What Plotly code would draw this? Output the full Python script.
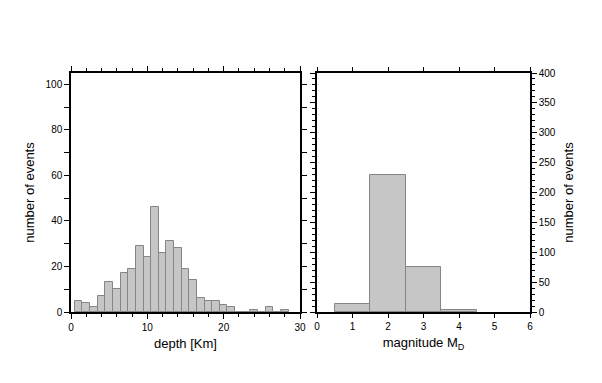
import plotly.graph_objects as go

# Depth histogram (1 km bins, centred on integers)
depth_centers = list(range(1, 29))
depth_counts = [5, 4, 2, 7, 13, 10, 17, 19, 29, 24, 46, 26, 31, 28, 19, 14,
                6, 5, 5, 3, 2, 0, 0, 1, 0, 2, 0, 1]

# Magnitude histogram (1-unit bins, centred on integers)
mag_centers = [1, 2, 3, 4]
mag_counts = [13, 229, 75, 4]

depth_ticks = [0, 10, 20, 30]
mag_ticks = [0, 1, 2, 3, 4, 5, 6]

FONT = "Liberation Sans, Arial, Helvetica, sans-serif"
BAR_FILL = "#c6c6c6"
BAR_LINE = "#858585"

fig = go.Figure()
fig.add_trace(go.Bar(x=depth_centers, y=depth_counts, width=1,
                     marker=dict(color=BAR_FILL, line=dict(color=BAR_LINE, width=1)),
                     xaxis="x", yaxis="y", showlegend=False))
fig.add_trace(go.Bar(x=mag_centers, y=mag_counts, width=1,
                     marker=dict(color=BAR_FILL, line=dict(color=BAR_LINE, width=1)),
                     xaxis="x2", yaxis="y2", showlegend=False))

axis_common = dict(showgrid=False, zeroline=False, showline=True, linecolor="black",
                   linewidth=1.5, ticks="outside", tickcolor="black", tickwidth=1,
                   mirror="ticks", automargin=False,
                   tickfont=dict(family=FONT, size=10, color="black"))

fig.update_layout(
    width=602, height=383,
    margin=dict(l=63, r=80, t=65, b=79),
    paper_bgcolor="white", plot_bgcolor="white",
    bargap=0,
    font=dict(family=FONT, color="black"),
    xaxis=dict(domain=[0, 0.4989], range=[0, 30], tickvals=depth_ticks, ticklen=5,
               minor=dict(dtick=2, ticklen=3, ticks="outside", tickcolor="black", showgrid=False),
               title=dict(text="depth [Km]", font=dict(family=FONT, size=13), standoff=7),
               anchor="y", **axis_common),
    yaxis=dict(domain=[0, 1], range=[0, 105], dtick=20, ticklen=5,
               minor=dict(dtick=10, ticklen=5, ticks="outside", tickcolor="black", showgrid=False),
               title=dict(text="number of events", font=dict(family=FONT, size=13), standoff=8),
               anchor="x", **axis_common),
    xaxis2=dict(domain=[0.536, 1], range=[0, 6], tickvals=mag_ticks, ticklen=4,
                title=dict(text="magnitude M<sub>D</sub>", font=dict(family=FONT, size=13), standoff=7),
                anchor="y2", **axis_common),
    yaxis2=dict(domain=[0, 1], range=[0, 400], dtick=50, ticklen=5, side="right",
                minor=dict(dtick=10, ticklen=3, ticks="outside", tickcolor="black", showgrid=False),
                title=dict(text="number of events", font=dict(family=FONT, size=13), standoff=9),
                anchor="x2", **axis_common),
)

fig.write_html("out.html")
